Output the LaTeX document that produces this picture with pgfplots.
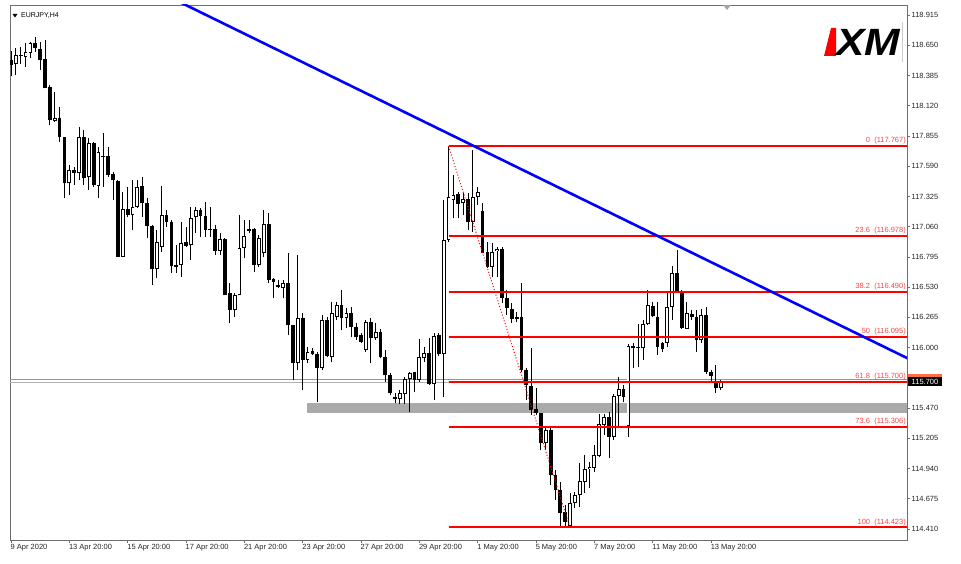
\documentclass[border=0pt]{standalone}
\usepackage{fontspec}
\setmainfont{Liberation Sans}
\usepackage{pgfplots}
\usepackage{pgfplotstable}
\pgfplotsset{compat=1.18}

\definecolor{fibred}{RGB}{255,0,0}
\definecolor{fibtext}{RGB}{245,70,70}
\definecolor{trend}{RGB}{0,0,255}
\definecolor{zone}{RGB}{170,170,170}
\definecolor{frame}{RGB}{110,110,110}
\definecolor{askline}{RGB}{255,110,70}

% EURJPY H4 candles, open high low close
\pgfplotstableread{
o h l c
118.521 118.600 118.380 118.477
118.486 118.626 118.389 118.564
118.556 118.635 118.486 118.560
118.550 118.672 118.462 118.588
118.585 118.681 118.536 118.667
118.667 118.725 118.593 118.628
118.617 118.681 118.433 118.521
118.527 118.696 118.273 118.273
118.281 118.302 117.951 117.995
117.989 118.243 117.980 118.010
118.010 118.111 117.805 117.848
117.848 117.848 117.309 117.440
117.440 117.600 117.338 117.557
117.557 117.586 117.425 117.533
117.528 117.936 117.469 117.848
117.848 117.907 117.425 117.484
117.493 117.834 117.381 117.791
117.791 117.799 117.410 117.425
117.416 117.761 117.309 117.717
117.682 117.878 117.410 117.673
117.682 117.761 117.498 117.513
117.519 117.542 117.294 117.469
117.463 117.469 116.797 116.797
116.797 117.366 116.797 117.212
117.212 117.410 117.147 117.162
117.162 117.469 117.031 117.235
117.235 117.469 117.221 117.410
117.416 117.498 117.147 117.265
117.265 117.309 116.958 117.066
117.066 117.075 116.549 116.689
116.689 117.031 116.610 116.926
116.882 117.416 116.838 117.162
117.162 117.206 117.060 117.104
117.104 117.118 116.654 116.715
116.724 116.899 116.651 116.709
116.724 117.104 116.622 116.920
116.926 117.060 116.884 116.893
116.899 117.235 116.768 117.133
117.142 117.235 117.002 117.206
117.206 117.221 116.972 117.153
117.153 117.279 116.972 117.031
117.037 117.235 116.972 117.031
117.037 117.075 116.812 116.849
116.849 117.002 116.812 116.949
116.949 116.958 116.461 116.461
116.476 116.564 116.213 116.330
116.330 116.476 116.266 116.461
116.461 117.162 116.461 116.870
116.870 117.118 116.783 116.978
117.037 117.118 117.002 117.025
117.037 117.046 116.665 116.724
116.724 116.987 116.709 116.958
116.832 117.206 116.797 117.081
117.081 117.177 116.564 116.593
116.601 116.607 116.432 116.578
116.549 116.593 116.520 116.529
116.520 116.593 116.432 116.564
116.564 116.827 116.111 116.198
116.198 116.198 115.716 115.863
115.863 116.812 115.804 116.262
116.262 116.301 115.629 115.892
115.892 116.008 115.863 115.964
115.971 115.994 115.935 115.944
115.944 115.964 115.526 115.819
115.819 116.286 115.804 116.242
116.242 116.271 115.920 115.927
115.915 116.402 115.877 116.306
116.266 116.402 116.242 116.374
116.374 116.505 116.154 116.257
116.257 116.345 116.169 116.301
116.301 116.359 116.096 116.183
116.183 116.213 116.067 116.096
116.111 116.126 116.038 116.052
115.979 116.242 115.964 116.227
116.227 116.257 115.863 116.082
116.082 116.213 116.067 116.140
116.140 116.161 115.906 115.920
115.920 115.979 115.701 115.760
115.760 115.775 115.585 115.600
115.565 115.600 115.512 115.550
115.547 115.629 115.506 115.600
115.594 115.745 115.506 115.722
115.722 115.789 115.438 115.780
115.789 115.789 115.614 115.716
115.716 116.073 115.701 115.915
115.906 116.008 115.877 115.955
115.955 116.082 115.672 115.681
115.681 116.131 115.541 116.102
116.111 116.126 115.927 115.944
115.944 117.294 115.567 116.943
116.943 117.767 116.926 117.320
117.294 117.513 117.136 117.338
117.346 117.364 117.136 117.259
117.267 117.355 117.162 117.302
117.302 117.355 117.031 117.101
117.101 117.732 117.013 117.320
117.320 117.408 117.250 117.364
117.197 117.267 116.829 116.829
116.838 116.926 116.698 116.706
116.706 116.917 116.619 116.838
116.847 116.882 116.619 116.864
116.864 116.882 116.391 116.435
116.435 116.505 116.286 116.347
116.338 116.391 116.216 116.251
116.268 116.312 116.225 116.251
116.268 116.566 115.786 115.804
115.804 115.821 115.541 115.672
115.664 115.997 115.409 115.453
115.462 115.646 115.409 115.427
115.427 115.427 115.103 115.164
115.164 115.295 115.103 115.278
115.278 115.295 114.796 114.884
114.884 114.927 114.665 114.752
114.752 114.822 114.428 114.551
114.559 114.621 114.423 114.472
114.440 114.726 114.423 114.638
114.638 114.735 114.594 114.708
114.708 114.989 114.603 114.831
114.822 115.059 114.726 114.936
114.936 114.998 114.770 114.954
114.945 115.147 114.910 115.059
115.050 115.418 115.041 115.331
115.322 115.418 115.234 115.392
115.392 115.436 115.033 115.217
115.217 115.594 115.190 115.576
115.576 115.742 115.304 115.637
115.637 115.672 115.523 115.567
115.313 116.032 115.217 116.014
116.014 116.040 115.821 115.997
116.005 116.207 115.830 115.997
115.997 116.242 115.892 116.207
116.207 116.505 116.198 116.374
116.365 116.400 116.268 116.277
116.268 116.400 115.935 116.005
116.040 116.049 115.962 115.988
116.040 116.487 116.005 116.356
116.356 116.715 116.242 116.654
116.654 116.856 116.479 116.487
116.487 116.505 116.163 116.172
116.163 116.400 116.163 116.303
116.295 116.330 116.242 116.268
116.268 116.330 115.962 116.067
116.067 116.338 116.040 116.286
116.286 116.356 115.769 115.786
115.786 115.804 115.690 115.751
115.699 115.848 115.602 115.646
115.646 115.716 115.629 115.700
}\candles

\pgfplotsset{
  candle part/.style 2 args={draw=none, mark=none,
    error bars/.cd, y dir=plus, y explicit, error mark=none,
    error bar style={draw=#1, solid, line width=#2}},
  fib/.style={fibred, line width=2pt},
}

\begin{document}
\begin{tikzpicture}
\path[use as bounding box] (0,0) rectangle (961pt,563pt);
\begin{axis}[
    at={(10pt,23pt)}, anchor=south west,
    scale only axis, width=897pt, height=535pt,
    xmin=-0.2, xmax=184.3, ymin=114.314, ymax=119.003,
    axis line style={frame, line width=0.8pt},
    tick align=outside, major tick length=3pt,
    tick style={frame, line width=0.8pt},
    xtick pos=bottom, ytick pos=right, yticklabel pos=right,
    xtick={0,12,...,144},
    xticklabels={9 Apr 2020, 13 Apr 20:00, 15 Apr 20:00, 17 Apr 20:00, 21 Apr 20:00, 23 Apr 20:00, 27 Apr 20:00, 29 Apr 20:00, 1 May 20:00, 5 May 20:00, 7 May 20:00, 11 May 20:00, 13 May 20:00},
    ytick={114.410,114.675,114.940,115.205,115.470,116.000,116.265,116.530,116.795,117.060,117.325,117.590,117.855,118.120,118.385,118.650,118.915},
    scaled y ticks=false,
    ticklabel style={font=\fontsize{7.5}{9}\selectfont, text=black!85},
    xticklabel style={anchor=north west, inner sep=0pt, xshift=-0.5pt, yshift=-1pt},
    yticklabel style={anchor=west, inner sep=0pt, xshift=1.5pt,
      /pgf/number format/fixed, /pgf/number format/fixed zerofill,
      /pgf/number format/precision=3, /pgf/number format/assume math mode=true},
    clip=true,
]
% support zone
\addplot [draw=none, fill=zone] coordinates {(60.9,115.427) (190,115.427) (190,115.515) (60.9,115.515)} -- cycle;
% bid / ask lines
\addplot [askline, line width=0.7pt] coordinates {(-1,115.720) (190,115.720)};
\addplot [black!30, line width=0.7pt] coordinates {(-1,115.700) (190,115.700)};
% wicks
\addplot [candle part={black}{0.9pt}]
  table [x expr=\coordindex, y=l, y error expr=\thisrow{h}-\thisrow{l}] {\candles};
% bodies: black block, then white inside for rising candles
\addplot [candle part={black}{3.8pt}]
  table [x expr=\coordindex, y expr={min(\thisrow{o},\thisrow{c})},
         y error expr={max(abs(\thisrow{c}-\thisrow{o}),0.009)}] {\candles};
\addplot [candle part={white}{2.0pt}]
  table [x expr=\coordindex, y expr={min(\thisrow{o},\thisrow{c})+0.008},
         y error expr={(\thisrow{c}>\thisrow{o})*max(\thisrow{c}-\thisrow{o}-0.016,0)}] {\candles};
% fibonacci levels
\addplot [fib] coordinates {(90,117.767) (190,117.767)};
\addplot [fib] coordinates {(90,116.978) (190,116.978)};
\addplot [fib] coordinates {(90,116.490) (190,116.490)};
\addplot [fib] coordinates {(90,116.095) (190,116.095)};
\addplot [fib] coordinates {(90,115.700) (190,115.700)};
\addplot [fib] coordinates {(90,115.306) (190,115.306)};
\addplot [fib] coordinates {(90,114.425) (190,114.425)};
\addplot [fibred, line width=1pt, dash pattern=on 1pt off 2pt] coordinates {(90,117.767) (115,114.423)};
% trend line
\addplot [trend, line width=2.6pt] coordinates {(30,119.127) (190,115.790)};

\begin{scope}[every node/.style={anchor=south east, inner sep=0pt, yshift=1.5pt, xshift=-1pt,
    font=\fontsize{7.5}{9}\selectfont, text=fibtext}]
\node at (axis cs:184.3,117.767) {0\ \ (117.767)};
\node at (axis cs:184.3,116.978) {23.6\ \ (116.978)};
\node at (axis cs:184.3,116.490) {38.2\ \ (116.490)};
\node at (axis cs:184.3,116.095) {50\ \ (116.095)};
\node at (axis cs:184.3,115.700) {61.8\ \ (115.700)};
\node at (axis cs:184.3,115.306) {73.6\ \ (115.306)};
\node at (axis cs:184.3,114.423) {100\ \ (114.423)};
\end{scope}
\end{axis}
% symbol title
\fill[black] (12.5pt,549pt) -- (17.5pt,549pt) -- (15pt,545.5pt) -- cycle;
\node[anchor=west, inner sep=0pt, font=\fontsize{7}{8}\selectfont] at (21pt,547pt) {EURJPY,H4};
% chart shift marker
\fill[black!35] (723pt,558pt) -- (731pt,558pt) -- (727pt,553pt) -- cycle;
% logo
\fill[fibred] (831pt,535pt) -- (836pt,535pt) -- (836pt,507pt) -- (824pt,507pt) -- cycle;
\node[inner sep=0pt, font=\fontsize{38}{38}\selectfont\bfseries\itshape] at (868pt,521pt) {\scalebox{1.12}[1]{XM}};
\draw[black!20, line width=0.6pt] (902pt,541pt) -- (902pt,501pt);
% current price labels
\fill[askline] (908pt,185pt) rectangle (942pt,189pt);
\fill[black] (908pt,177.3pt) rectangle (942pt,185.7pt);
\node[inner sep=0pt, text=white, font=\fontsize{7.5}{9}\selectfont] at (925pt,181.3pt) {115.700};
\end{tikzpicture}
\end{document}
